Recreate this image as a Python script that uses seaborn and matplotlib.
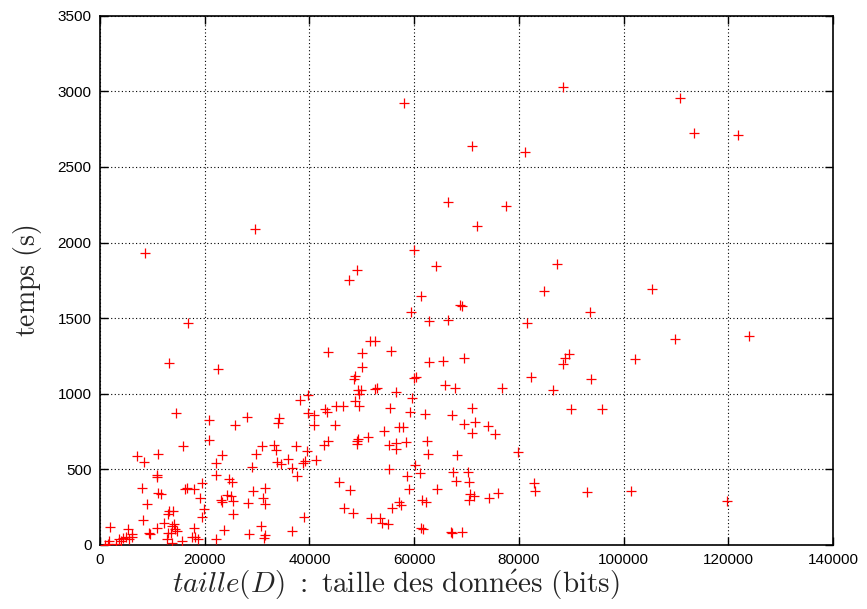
import matplotlib
matplotlib.use("Agg")
import matplotlib.pyplot as plt
import seaborn as sns
import pandas as pd

# Taille des données (bits) et temps de calcul (s) pour chaque exécution
taille_bits = [
    8590, 29590, 88450, 58030, 71080, 81130, 66500, 77570, 71970, 60010,
    64270, 49130, 47600, 61280, 87300, 84760, 110780, 113400, 121800, 105380,
    16860, 13170, 22590, 14510, 20750, 25770, 28000, 34170, 33920, 68700,
    69100, 59370, 62930, 66560, 51480, 52500, 43590, 50080, 55610, 62870,
    65540, 69490, 50080, 48680, 48430, 59900, 60300, 65990, 67770, 49320,
    49800, 49500, 52500, 52900, 56630, 39770, 38120, 59630, 48680, 49440,
    45050, 46500, 43010, 43390, 55420, 39770, 40910, 59180, 62110, 67310,
    40910, 44860, 69550, 57080, 57840, 93600, 81520, 89600, 88900, 88450,
    102190, 82340, 93860, 76870, 86540, 71080, 89980, 95840, 71720, 74130,
    109770, 123950,
    20750, 15900, 7120, 11130, 8460, 22080, 22080, 10940, 10940, 7960,
    11130, 11640, 16230, 16550, 18000, 19530, 19150, 19850, 19530, 9030,
    13170, 12920, 14000, 8150, 10820, 9350, 9600, 12280, 13680, 14320,
    14700, 13550, 13040, 14130, 12850, 13680, 15710, 17880, 17500, 18100,
    18770, 22140, 5410, 6050, 1910, 4450, 4960, 5600, 4010, 3630,
    1780, 1470, 950, 3050, 6050,
    30870, 33220, 33600, 37360, 42760, 43590, 39580, 29780, 23350, 28950,
    33720, 34490, 35950, 36590, 38820, 39130, 41230, 37550, 24630, 25140,
    29150, 31500, 24180, 24940, 23100, 23350, 25330, 28310, 31170, 31500,
    25450, 39000, 23670, 30680, 28500, 31500, 31310, 36590,
    54270, 49000, 49310, 49180, 51100, 55170, 56630, 56510, 58540, 62490,
    62680, 68100, 60130, 55170, 58670, 61090, 67450, 67960, 45630, 47730,
    58990, 64390, 61530, 62360, 57080, 57460, 55680, 46640, 48240, 51800,
    53450, 53770, 55040, 61400, 61600, 67130,
    71080, 75540, 79860, 70320, 70510, 82910, 83040, 93030, 76040, 70640,
    71460, 70510, 74260, 67260, 69230, 101430, 119750,
]
temps_s = [
    1928, 2088, 3028, 2925, 2639, 2601, 2269, 2242, 2110, 1949,
    1848, 1819, 1753, 1648, 1859, 1681, 2954, 2727, 2709, 1690,
    1471, 1203, 1165, 870, 826, 793, 844, 839, 808, 1590,
    1580, 1540, 1480, 1489, 1348, 1348, 1273, 1271, 1286, 1209,
    1214, 1234, 1176, 1115, 1099, 1106, 1108, 1057, 1040, 1026,
    1024, 998, 1029, 1035, 1013, 993, 958, 969, 952, 921,
    921, 921, 897, 881, 905, 870, 857, 881, 866, 857,
    791, 793, 797, 782, 782, 1540, 1471, 1264, 1238, 1194,
    1227, 1112, 1095, 1040, 1024, 907, 899, 901, 815, 784,
    1359, 1379,
    694, 654, 590, 599, 551, 540, 463, 447, 460, 377,
    344, 335, 368, 379, 368, 408, 313, 236, 185, 269,
    227, 207, 227, 165, 115, 77, 70, 147, 126, 108,
    93, 81, 77, 137, 38, 11, 24, 110, 53, 55,
    40, 38, 104, 71, 117, 44, 51, 40, 29, 38,
    29, 7, 0, 7, 55,
    656, 661, 628, 654, 661, 687, 623, 599, 595, 517,
    551, 533, 566, 507, 540, 557, 562, 456, 434, 414,
    359, 374, 330, 324, 295, 286, 293, 280, 313, 271,
    203, 187, 99, 128, 71, 66, 44, 93,
    755, 689, 700, 667, 716, 661, 676, 634, 678, 689,
    601, 595, 529, 502, 458, 478, 480, 423, 418, 363,
    370, 370, 297, 284, 282, 264, 242, 245, 214, 176,
    176, 147, 139, 110, 105, 84,
    742, 733, 612, 480, 418, 412, 357, 352, 346, 337,
    324, 297, 308, 81, 84, 357, 291,
]

x_ticks = [0, 20000, 40000, 60000, 80000, 100000, 120000, 140000]
y_ticks = [0, 500, 1000, 1500, 2000, 2500, 3000, 3500]

df = pd.DataFrame({"taille": taille_bits, "temps": temps_s})

sns.set_style("ticks")
plt.rcParams["font.family"] = ["Liberation Sans", "DejaVu Sans"]
plt.rcParams["mathtext.fontset"] = "cm"

fig = plt.figure(figsize=(8.67, 6.09), dpi=100)
ax = fig.add_axes([0.1153, 0.1051, 0.8455, 0.8691])

sns.scatterplot(data=df, x="taille", y="temps", marker="+", color="#ff0000",
                s=45, linewidth=0.9, ax=ax, legend=False, zorder=3)

ax.set_xlim(0, 140000)
ax.set_ylim(0, 3500)
ax.set_xticks(x_ticks)
ax.set_yticks(y_ticks)
ax.set_xticklabels([str(v) for v in x_ticks])
ax.set_yticklabels([str(v) for v in y_ticks])

ax.grid(True, color="black", linestyle=(0, (1, 2.2)), linewidth=0.8)
ax.tick_params(direction="in", length=6, width=1.0, top=True, right=True,
               labelsize=11, colors="black", pad=6)
for sp in ax.spines.values():
    sp.set_linewidth(1.2)
    sp.set_color("black")

# Axis titles typeset in Computer Modern
ax.set_xlabel(r"$\mathit{taille}(D)\ \mathrm{:\ taille\ des\ donn\acute{e}es\ (bits)}$",
              fontsize=21)
ax.xaxis.set_label_coords(0.404, -0.043, transform=ax.transAxes)
ax.xaxis.label.set_va("top")
ax.set_ylabel(r"$\mathrm{temps\ (s)}$", fontsize=20, labelpad=10)

fig.savefig("out.png", dpi=100)
